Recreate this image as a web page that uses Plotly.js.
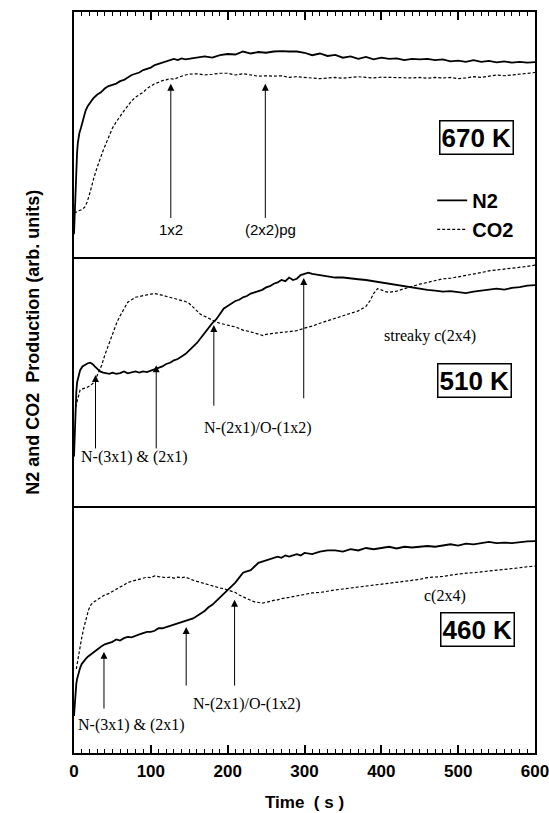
<!DOCTYPE html>
<html>
<head>
<meta charset="utf-8">
<script src="https://cdn.plot.ly/plotly-3.0.1.min.js"></script>
<style>html,body{margin:0;padding:0;background:#fff;}#chart{width:549px;height:813px;}</style>
</head>
<body>
<div id="chart"></div>
<script>
// ---- data: [time (s), signal (arb. units)] ----
const n2_670 = [[0,0.10],[1,0.20],[2,0.30],[3,0.37],[4,0.43],[5,0.47],[7,0.51],[9,0.53],[12,0.57],[15,0.60],[18,0.62],[21,0.635],[25,0.65],[30,0.665],[35,0.675],[40,0.69],[45,0.70],[50,0.705],[55,0.71],[60,0.72],[65,0.725],[70,0.735],[75,0.745],[80,0.75],[85,0.755],[90,0.765],[95,0.77],[100,0.775],[105,0.785],[110,0.79],[115,0.795],[120,0.80],[125,0.805],[130,0.81],[135,0.805],[140,0.812],[145,0.808],[150,0.81],[160,0.815],[170,0.82],[180,0.815],[190,0.825],[200,0.83],[210,0.828],[220,0.84],[230,0.832],[240,0.838],[250,0.835],[260,0.84],[270,0.842],[280,0.84],[290,0.84],[300,0.835],[310,0.825],[320,0.832],[330,0.822],[340,0.826],[350,0.815],[360,0.82],[370,0.81],[380,0.818],[390,0.808],[400,0.815],[410,0.81],[420,0.812],[430,0.805],[440,0.81],[450,0.808],[460,0.81],[470,0.805],[480,0.808],[490,0.80],[500,0.803],[510,0.798],[520,0.805],[530,0.798],[540,0.802],[550,0.796],[560,0.80],[570,0.795],[580,0.798],[590,0.795],[600,0.797]];
const co2_670 = [[0,0.19],[3,0.19],[6,0.195],[10,0.20],[14,0.21],[17,0.23],[20,0.26],[23,0.30],[26,0.33],[30,0.37],[34,0.41],[38,0.44],[42,0.47],[46,0.50],[50,0.53],[55,0.555],[60,0.58],[65,0.60],[70,0.62],[75,0.64],[80,0.655],[85,0.665],[90,0.675],[95,0.69],[100,0.70],[105,0.71],[110,0.715],[115,0.722],[120,0.725],[125,0.73],[130,0.728],[135,0.735],[140,0.74],[145,0.745],[150,0.748],[160,0.75],[170,0.745],[180,0.748],[190,0.752],[200,0.752],[210,0.745],[220,0.75],[230,0.745],[240,0.74],[250,0.742],[260,0.74],[270,0.742],[280,0.735],[290,0.738],[300,0.735],[310,0.733],[320,0.73],[330,0.733],[340,0.735],[350,0.732],[360,0.735],[370,0.738],[380,0.735],[390,0.733],[400,0.736],[410,0.735],[420,0.733],[430,0.735],[440,0.733],[450,0.735],[460,0.732],[470,0.735],[480,0.733],[490,0.735],[500,0.73],[510,0.733],[520,0.738],[530,0.735],[540,0.74],[550,0.745],[560,0.742],[570,0.745],[580,0.748],[590,0.75],[600,0.755]];

const n2_510 = [[0,0.20],[1,0.30],[2,0.40],[3,0.46],[4,0.50],[6,0.53],[8,0.55],[11,0.565],[14,0.572],[18,0.578],[21,0.58],[24,0.575],[27,0.565],[30,0.555],[34,0.545],[38,0.54],[42,0.538],[46,0.535],[50,0.54],[55,0.535],[60,0.538],[65,0.545],[70,0.537],[75,0.54],[80,0.545],[85,0.54],[90,0.545],[95,0.542],[100,0.548],[105,0.555],[110,0.56],[115,0.565],[120,0.575],[125,0.58],[130,0.59],[135,0.595],[140,0.605],[145,0.615],[150,0.63],[155,0.645],[160,0.66],[165,0.68],[170,0.70],[175,0.72],[180,0.74],[185,0.755],[190,0.78],[195,0.80],[200,0.81],[205,0.82],[210,0.83],[215,0.835],[220,0.845],[225,0.85],[230,0.86],[235,0.865],[240,0.87],[245,0.875],[250,0.885],[255,0.89],[260,0.90],[265,0.905],[270,0.915],[275,0.91],[280,0.925],[285,0.915],[290,0.92],[295,0.935],[300,0.94],[305,0.945],[310,0.94],[320,0.935],[330,0.93],[340,0.925],[350,0.925],[360,0.92],[370,0.918],[380,0.915],[390,0.91],[400,0.905],[410,0.90],[420,0.895],[430,0.888],[440,0.885],[450,0.878],[460,0.875],[470,0.872],[480,0.868],[490,0.87],[500,0.865],[510,0.862],[520,0.868],[530,0.872],[540,0.875],[550,0.88],[560,0.876],[570,0.883],[580,0.886],[590,0.892],[600,0.894]];
const co2_510 = [[2,0.40],[5,0.44],[8,0.47],[12,0.475],[17,0.48],[22,0.49],[26,0.50],[29,0.52],[32,0.54],[36,0.57],[40,0.61],[44,0.645],[48,0.68],[52,0.71],[56,0.745],[60,0.77],[65,0.80],[70,0.825],[75,0.835],[80,0.845],[85,0.848],[90,0.85],[95,0.855],[100,0.858],[105,0.86],[110,0.857],[115,0.853],[120,0.85],[125,0.846],[130,0.84],[135,0.838],[140,0.832],[145,0.828],[150,0.82],[155,0.805],[160,0.79],[165,0.775],[170,0.768],[175,0.76],[180,0.752],[185,0.745],[190,0.74],[195,0.735],[200,0.732],[210,0.725],[220,0.712],[230,0.705],[240,0.695],[246,0.69],[250,0.695],[260,0.70],[270,0.703],[280,0.706],[290,0.71],[300,0.72],[310,0.728],[320,0.74],[330,0.75],[340,0.758],[350,0.77],[360,0.78],[370,0.79],[380,0.808],[385,0.83],[390,0.86],[395,0.88],[400,0.875],[405,0.868],[410,0.865],[420,0.87],[430,0.88],[440,0.89],[450,0.898],[460,0.905],[470,0.912],[480,0.92],[490,0.922],[500,0.927],[510,0.932],[520,0.94],[530,0.945],[540,0.952],[550,0.955],[560,0.96],[570,0.962],[580,0.966],[590,0.97],[600,0.975]];

const n2_460 = [[0,0.15],[1,0.21],[2,0.25],[3,0.28],[4,0.30],[6,0.325],[8,0.345],[10,0.36],[12,0.37],[15,0.38],[18,0.39],[22,0.40],[26,0.41],[30,0.42],[35,0.43],[40,0.44],[45,0.445],[50,0.45],[55,0.46],[60,0.455],[65,0.465],[70,0.47],[75,0.468],[80,0.475],[85,0.48],[90,0.485],[95,0.49],[100,0.49],[105,0.495],[110,0.505],[115,0.505],[120,0.51],[125,0.515],[130,0.52],[135,0.528],[140,0.53],[145,0.535],[150,0.54],[155,0.545],[160,0.555],[165,0.565],[170,0.575],[175,0.59],[180,0.60],[185,0.615],[190,0.63],[195,0.645],[200,0.66],[205,0.675],[210,0.69],[215,0.71],[220,0.73],[225,0.735],[230,0.74],[235,0.755],[240,0.77],[245,0.775],[250,0.78],[255,0.785],[260,0.79],[265,0.795],[270,0.79],[275,0.80],[280,0.795],[285,0.80],[290,0.805],[295,0.80],[300,0.81],[310,0.805],[320,0.815],[330,0.82],[340,0.82],[350,0.815],[360,0.825],[370,0.82],[380,0.83],[390,0.825],[400,0.83],[410,0.835],[420,0.828],[430,0.835],[440,0.832],[450,0.835],[460,0.838],[470,0.835],[480,0.84],[490,0.845],[500,0.84],[510,0.848],[520,0.845],[530,0.85],[540,0.855],[550,0.85],[560,0.852],[570,0.85],[580,0.855],[590,0.857],[600,0.858]];
const co2_460 = [[3,0.34],[5,0.38],[7,0.42],[10,0.466],[13,0.51],[16,0.55],[19,0.58],[22,0.60],[25,0.61],[30,0.62],[35,0.63],[40,0.64],[45,0.645],[50,0.655],[55,0.665],[60,0.672],[65,0.68],[70,0.69],[75,0.695],[80,0.70],[85,0.705],[90,0.708],[95,0.712],[100,0.71],[105,0.717],[110,0.714],[115,0.712],[120,0.71],[125,0.712],[130,0.708],[135,0.712],[140,0.71],[145,0.712],[150,0.705],[155,0.70],[160,0.695],[165,0.69],[170,0.685],[175,0.68],[180,0.675],[185,0.672],[190,0.668],[195,0.665],[200,0.66],[205,0.655],[210,0.65],[215,0.64],[220,0.632],[225,0.625],[230,0.618],[235,0.612],[240,0.608],[245,0.607],[250,0.61],[255,0.615],[260,0.618],[265,0.62],[270,0.625],[280,0.63],[290,0.636],[300,0.64],[310,0.648],[320,0.65],[330,0.656],[340,0.66],[350,0.664],[360,0.668],[370,0.672],[380,0.675],[390,0.678],[400,0.682],[410,0.686],[420,0.69],[430,0.695],[440,0.70],[450,0.703],[460,0.71],[470,0.712],[480,0.715],[490,0.72],[500,0.725],[510,0.728],[520,0.73],[530,0.733],[540,0.738],[550,0.74],[560,0.743],[570,0.746],[580,0.75],[590,0.754],[600,0.757]];

const xRange = [0, 600];
const seriesNames = ['N2', 'CO2'];
const tempLabels = ['670 K', '510 K', '460 K'];

// ---- styles ----
const SANS = 'Liberation Sans, Arial, Helvetica, sans-serif';
const SERIF = 'Liberation Serif, Times New Roman, serif';
const solid = {color: '#000', width: 1.8};
const dotted = {color: '#000', width: 1.2, dash: '3px,2px'};
const X = a => a.map(p => p[0]);
const Y = a => a.map(p => p[1]);

const traces = [
  {x: X(n2_670), y: Y(n2_670), xaxis: 'x3', yaxis: 'y', mode: 'lines', line: solid, name: seriesNames[0], legendgroup: 'a'},
  {x: X(co2_670), y: Y(co2_670), xaxis: 'x3', yaxis: 'y', mode: 'lines', line: dotted, name: seriesNames[1], legendgroup: 'b'},
  {x: X(n2_510), y: Y(n2_510), xaxis: 'x2', yaxis: 'y2', mode: 'lines', line: solid, showlegend: false},
  {x: X(co2_510), y: Y(co2_510), xaxis: 'x2', yaxis: 'y2', mode: 'lines', line: dotted, showlegend: false},
  {x: X(n2_460), y: Y(n2_460), xaxis: 'x', yaxis: 'y3', mode: 'lines', line: solid, showlegend: false},
  {x: X(co2_460), y: Y(co2_460), xaxis: 'x', yaxis: 'y3', mode: 'lines', line: dotted, showlegend: false}
];

function arrow(xr, yr, x, tip, tail) {
  return {xref: xr, yref: yr, axref: xr, ayref: yr, x: x, y: tip, ax: x, ay: tail,
    text: '', showarrow: true, arrowhead: 2, arrowsize: 1.4, arrowwidth: 1, arrowcolor: '#000', standoff: 0, startstandoff: 0};
}
function label(xr, yr, x, y, text, font, xanchor) {
  return {xref: xr, yref: yr, x: x, y: y, text: text, showarrow: false, xanchor: xanchor || 'center', yanchor: 'middle', font: font};
}
function tempBox(xr, yr, x, y, text) {
  return {xref: xr, yref: yr, x: x, y: y, text: text, showarrow: false, xanchor: 'center', yanchor: 'middle',
    font: {family: SANS, size: 26, weight: 'bold', color: '#000'}, bordercolor: '#000', borderwidth: 1.5, borderpad: 1, bgcolor: '#fff'};
}
const sansF = {family: SANS, size: 15, color: '#000'};
const serifF = {family: SERIF, size: 16, color: '#000'};

const annotations = [
  // 670 K
  arrow('x3', 'y', 126, 0.71, 0.16),
  arrow('x3', 'y', 249, 0.71, 0.16),
  label('x3', 'y', 126, 0.12, '1x2', sansF),
  label('x3', 'y', 256, 0.12, '(2x2)pg', sansF),
  tempBox('x3', 'y', 524, 0.49, tempLabels[0]),
  // 510 K
  arrow('x2', 'y2', 28, 0.53, 0.227),
  arrow('x2', 'y2', 107, 0.57, 0.227),
  arrow('x2', 'y2', 182, 0.733, 0.40),
  arrow('x2', 'y2', 299, 0.923, 0.43),
  label('x2', 'y2', 79, 0.20, 'N-(3x1) &amp; (2x1)', serifF),
  label('x2', 'y2', 240, 0.316, 'N-(2x1)/O-(1x2)', serifF),
  label('x2', 'y2', 463, 0.69, 'streaky c(2x4)', serifF),
  tempBox('x2', 'y2', 521, 0.51, tempLabels[1]),
  // 460 K
  arrow('x', 'y3', 39, 0.41, 0.174),
  arrow('x', 'y3', 146, 0.51, 0.267),
  arrow('x', 'y3', 209, 0.62, 0.267),
  label('x', 'y3', 75, 0.113, 'N-(3x1) &amp; (2x1)', serifF),
  label('x', 'y3', 225, 0.20, 'N-(2x1)/O-(1x2)', serifF),
  label('x', 'y3', 483, 0.635, 'c(2x4)', serifF),
  tempBox('x', 'y3', 525, 0.50, tempLabels[2]),
  // axis titles
  {xref: 'paper', yref: 'paper', x: -0.089, y: 0.555, text: 'N2 and CO2  Production (arb. units)', textangle: -90, showarrow: false,
    xanchor: 'center', yanchor: 'middle', font: {family: SANS, size: 18, weight: 'bold', color: '#000'}},
  {xref: 'paper', yref: 'paper', x: 0.5, y: -0.067, text: 'Time  ( s )', showarrow: false,
    xanchor: 'center', yanchor: 'middle', font: {family: SANS, size: 17, weight: 'bold', color: '#000'}}
];

const frame = {showline: true, linecolor: '#000', linewidth: 1.5, showgrid: false, zeroline: false};
const yax = d => Object.assign({}, frame, {domain: d, range: [0, 1], mirror: true, showticklabels: false, ticks: ''});
const tickSet = {tickmode: 'linear', tick0: 0, dtick: 100, ticks: 'inside', ticklen: 8, tickwidth: 1.5, tickcolor: '#000',
  minor: {ticks: 'inside', ticklen: 4.5, tickwidth: 1.3, dtick: 10, tick0: 0, tickcolor: '#000', showgrid: false}};

const layout = {
  width: 549, height: 813,
  margin: {l: 74, r: 14, t: 12, b: 60},
  paper_bgcolor: '#fff',
  font: {family: SANS, color: '#000'},
  showlegend: true,
  legend: {x: 0.777, y: 0.772, xanchor: 'left', yanchor: 'top', bgcolor: 'rgba(0,0,0,0)', borderwidth: 0,
    font: {family: SANS, size: 20, weight: 'bold', color: '#000'}, tracegroupgap: 8, traceorder: 'normal', itemwidth: 30},
  xaxis: Object.assign({}, frame, tickSet, {anchor: 'y3', range: xRange, mirror: false, ticklabelstandoff: 2, ticklabeloverflow: 'allow',
    tickfont: {family: SANS, size: 17, weight: 'bold', color: '#000'}}),
  xaxis2: Object.assign({}, frame, {anchor: 'y2', range: xRange, mirror: true, showticklabels: false, ticks: ''}),
  xaxis3: Object.assign({}, frame, tickSet, {anchor: 'y', side: 'top', range: xRange, mirror: false, showticklabels: false}),
  yaxis: Object.assign(yax([2/3, 1]), {anchor: 'x3'}),
  yaxis2: Object.assign(yax([1/3, 2/3]), {anchor: 'x2'}),
  yaxis3: Object.assign(yax([0, 1/3]), {anchor: 'x'}),
  annotations: annotations
};

Plotly.newPlot('chart', traces, layout, {displayModeBar: false});
</script>
</body>
</html>
